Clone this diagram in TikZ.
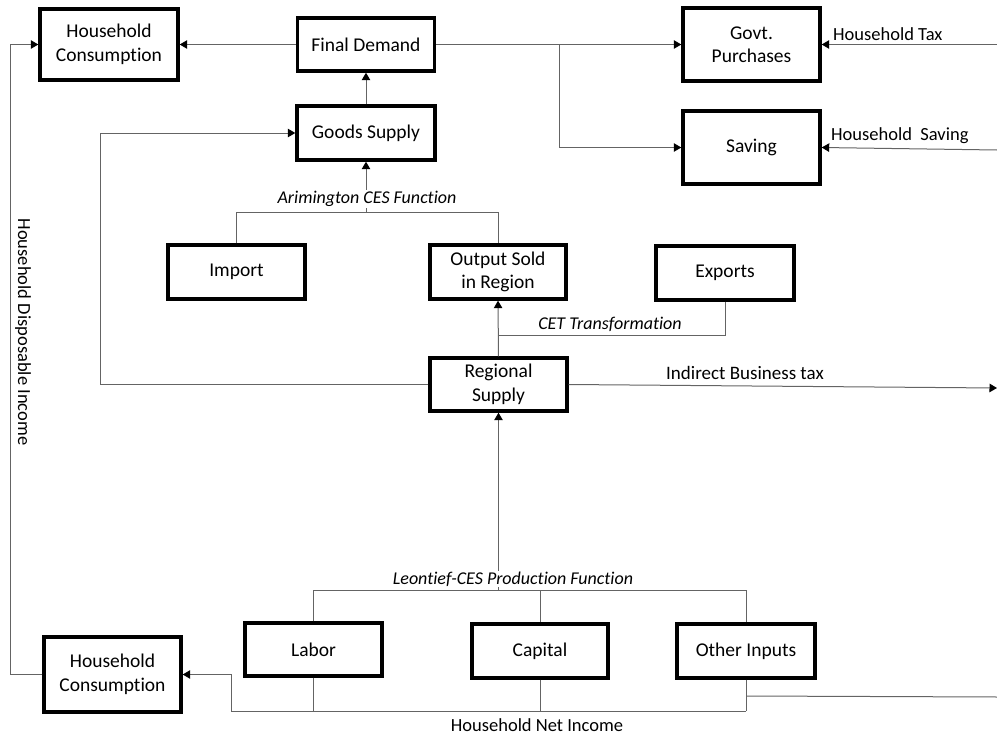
\documentclass[tikz,border=0pt]{standalone}
\usepackage{fontspec}
\setmainfont{Carlito}[Ligatures=NoCommon]
\usetikzlibrary{arrows.meta}
\definecolor{ln}{RGB}{100,100,100}
\begin{document}
\begin{tikzpicture}[x=1pt,y=-1pt,
  box/.style={draw=black, line width=3.4pt, align=center, inner sep=0pt,
    font=\fontsize{19.5}{23.5}\selectfont},
  conn/.style={draw=ln, line width=1pt},
  arr/.style={conn, -{Triangle[length=7.5pt,width=8.5pt,color=black]}},
  lab/.style={inner sep=1pt, font=\fontsize{18.5}{22}\selectfont},
  ilab/.style={inner sep=1pt, fill=white, font=\fontsize{18}{22}\selectfont\itshape}]
\useasboundingbox (0,0) rectangle (997,736);

% boxes
\node[box, minimum width=138pt, minimum height=71pt] (hcT) at (109,44.5) {Household\\Consumption};
\node[box, minimum width=137pt, minimum height=53pt] (fd) at (366,44.5) {Final Demand};
\node[box, minimum width=137pt, minimum height=73pt] (gov) at (751.5,44.5) {Govt.\\Purchases};
\node[box, minimum width=137pt, minimum height=73pt] (sav) at (751.5,147.5) {Saving};
\node[box, minimum width=138pt, minimum height=54pt] (gs) at (366,133) {Goods Supply};
\node[box, minimum width=137pt, minimum height=54pt] (imp) at (236.5,272) {Import};
\node[box, minimum width=136pt, minimum height=54pt] (osr) at (498,272) {Output Sold\\in Region};
\node[box, minimum width=138pt, minimum height=54pt] (exp) at (725,273) {Exports};
\node[box, minimum width=137pt, minimum height=53pt] (rs) at (498.5,384.5) {Regional\\Supply};
\node[box, minimum width=137pt, minimum height=53pt] (lab) at (313.5,649.5) {Labor};
\node[box, minimum width=136pt, minimum height=54pt] (cap) at (540,651) {Capital};
\node[box, minimum width=138pt, minimum height=54pt] (oth) at (746,651) {Other Inputs};
\node[box, minimum width=137pt, minimum height=75pt] (hcB) at (112.5,674.5) {Household\\Consumption};

% coordinates
\coordinate (br1) at (559,44.5);
\coordinate (br2) at (559,147.5);
\coordinate (arL) at (236.5,212);
\coordinate (arR) at (498,212);
\coordinate (arM) at (366,212);
\coordinate (cetE) at (725,335);
\coordinate (cetW) at (498,335);
\coordinate (gsL1) at (100,384.5);
\coordinate (gsL2) at (100,133);
\coordinate (ibt) at (997,388);
\coordinate (leoL) at (313.5,590);
\coordinate (leoC) at (540,590);
\coordinate (leoR) at (746,590);
\coordinate (leoM) at (498.5,590);
\coordinate (botL) at (313.5,711);
\coordinate (botC) at (540,711);
\coordinate (botR) at (746,711);
\coordinate (botA) at (231,711);
\coordinate (botB) at (231,674.5);
\coordinate (othR1) at (746,696);
\coordinate (othR2) at (997,697);
\coordinate (hdiB) at (10,674.5);
\coordinate (hdiT) at (10,44.5);
\coordinate (taxE) at (997,44.5);
\coordinate (savE) at (997,150);

% connectors
\draw[arr] (fd.west) -- (hcT.east);
\draw[arr] (fd.east) -- (gov.west);
\draw[arr] (br1) -- (br2) -- (sav.west);
\draw[arr] (gs.north) -- (fd.south);
\draw[conn] (imp.north) -- (arL) -- (arR) -- (osr.north);
\draw[arr] (arM) -- (gs.south);
\node[ilab] (arlab) at (367,199) {Arimington CES Function};
\draw[arr] (rs.north) -- (osr.south);
\draw[conn] (exp.south) -- (cetE) -- (cetW);
\node[ilab, fill=none] (cetlab) at (610,324) {CET Transformation};
\draw[arr] (rs.west) -- (gsL1) -- (gsL2) -- (gs.west);
\draw[arr] (rs.east) -- (ibt);
\node[lab, font=\fontsize{19}{22}\selectfont] (ibtlab) at (745,373) {Indirect Business tax};
\draw[conn] (lab.north) -- (leoL) -- (leoR) -- (oth.north);
\draw[conn] (leoC) -- (cap.north);
\draw[arr] (leoM) -- (rs.south);
\node[ilab, font=\fontsize{18}{21}\selectfont\itshape] (leolab) at (513,579) {Leontief-CES Production Function};
\draw[conn] (lab.south) -- (botL);
\draw[conn] (cap.south) -- (botC);
\draw[conn] (oth.south) -- (botR);
\draw[arr] (botR) -- (botA) -- (botB) -- (hcB.east);
\draw[conn] (othR1) -- (othR2);
\node[lab] (hnilab) at (537,725) {Household Net Income};
\draw[arr] (hcB.west) -- (hdiB) -- (hdiT) -- (hcT.west);
\node[lab, rotate=-90, anchor=south] (hdilab) at (14,332) {Household Disposable Income};
\draw[arr] (taxE) -- (gov.east);
\node[lab] (taxlab) [anchor=west] at (832,34) {Household Tax};
\draw[arr] (savE) -- (sav.east);
\node[lab] (savlab) [anchor=west] at (830,136) {Household\ \ Saving};
\end{tikzpicture}
\end{document}
